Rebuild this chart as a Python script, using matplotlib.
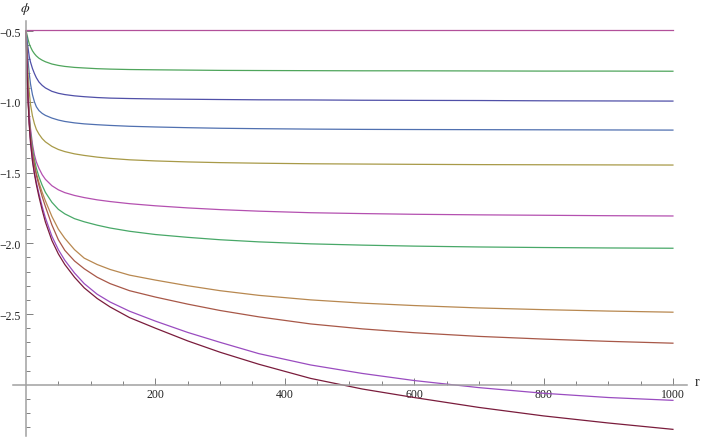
import matplotlib
matplotlib.use('Agg')
import matplotlib.pyplot as plt
import numpy as np

# sample radii and phi values for each curve
r = [0, 1, 2, 3, 5, 7, 10, 13, 16, 20, 25, 30, 40, 50, 60, 75, 90, 110, 130, 160,
     200, 250, 300, 360, 440, 520, 600, 700, 800, 900, 1000]

phi_flat = [-0.49] * len(r)
phi_green = [-0.5, -0.515, -0.535, -0.555, -0.59, -0.612, -0.64, -0.66, -0.676, -0.692, -0.706,
             -0.717, -0.733, -0.743, -0.75, -0.757, -0.761, -0.766, -0.769, -0.772,
             -0.774, -0.776, -0.778, -0.779, -0.78, -0.781, -0.781, -0.782, -0.783, -0.783, -0.784]
phi_blue = [-0.5, -0.54, -0.58, -0.615, -0.68, -0.72, -0.765, -0.8, -0.83, -0.86, -0.884,
            -0.902, -0.926, -0.94, -0.949, -0.958, -0.964, -0.97, -0.974, -0.977,
            -0.98, -0.982, -0.984, -0.986, -0.987, -0.989, -0.99, -0.991, -0.993, -0.994, -0.995]
phi_blue2 = [-0.5, -0.57, -0.64, -0.7, -0.8, -0.875, -0.95, -1.0, -1.035, -1.062, -1.082,
             -1.096, -1.115, -1.129, -1.139, -1.149, -1.156, -1.162, -1.167, -1.173,
             -1.178, -1.183, -1.187, -1.19, -1.193, -1.195, -1.196, -1.197, -1.198, -1.199, -1.2]
phi_olive = [-0.5, -0.6, -0.7, -0.79, -0.93, -1.02, -1.1, -1.155, -1.195, -1.228, -1.26,
             -1.283, -1.315, -1.337, -1.352, -1.368, -1.379, -1.391, -1.4, -1.41,
             -1.418, -1.425, -1.43, -1.434, -1.438, -1.44, -1.442, -1.444, -1.445, -1.446, -1.447]
phi_magenta = [-0.5, -0.64, -0.78, -0.9, -1.08, -1.19, -1.3, -1.375, -1.425, -1.47, -1.515,
               -1.548, -1.593, -1.622, -1.642, -1.662, -1.677, -1.693, -1.705, -1.72,
               -1.735, -1.75, -1.762, -1.773, -1.784, -1.79, -1.795, -1.799, -1.802, -1.805, -1.807]
phi_green2 = [-0.5, -0.65, -0.8, -0.93, -1.11, -1.22, -1.33, -1.41, -1.47, -1.53, -1.59,
              -1.64, -1.71, -1.76, -1.792, -1.826, -1.848, -1.872, -1.892, -1.915,
              -1.938, -1.958, -1.975, -1.99, -2.004, -2.013, -2.02, -2.026, -2.03, -2.033, -2.035]
phi_tan = [-0.5, -0.66, -0.82, -0.95, -1.13, -1.25, -1.36, -1.44, -1.505, -1.57, -1.64,
           -1.7, -1.81, -1.9, -1.965, -2.045, -2.105, -2.15, -2.185, -2.225,
           -2.26, -2.3, -2.335, -2.368, -2.4, -2.423, -2.44, -2.457, -2.469, -2.479, -2.487]
phi_brown = [-0.5, -0.66, -0.82, -0.95, -1.14, -1.26, -1.37, -1.45, -1.52, -1.59, -1.67,
             -1.74, -1.87, -1.975, -2.05, -2.125, -2.18, -2.24, -2.285, -2.335,
             -2.38, -2.43, -2.475, -2.52, -2.57, -2.605, -2.632, -2.658, -2.677, -2.693, -2.706]
phi_purple = [-0.5, -0.67, -0.83, -0.96, -1.15, -1.28, -1.41, -1.5, -1.57, -1.65, -1.74,
              -1.82, -1.95, -2.045, -2.12, -2.21, -2.285, -2.36, -2.415, -2.48,
              -2.55, -2.63, -2.7, -2.78, -2.86, -2.92, -2.97, -3.02, -3.06, -3.09, -3.11]
phi_darkred = [-0.5, -0.67, -0.84, -0.97, -1.16, -1.29, -1.42, -1.51, -1.585, -1.67, -1.765,
               -1.85, -1.98, -2.075, -2.15, -2.24, -2.315, -2.39, -2.45, -2.525,
               -2.6, -2.69, -2.77, -2.855, -2.955, -3.03, -3.09, -3.16, -3.22, -3.27, -3.315]

curves = [phi_flat, phi_green, phi_blue, phi_blue2, phi_olive, phi_magenta,
          phi_green2, phi_tan, phi_brown, phi_purple, phi_darkred]
colors = ['#b2509a', '#4fa55c', '#5050a8', '#5070b0', '#a89a48', '#b450b0',
          '#48a868', '#b88850', '#a85848', '#9a4cc0', '#7a1c3c']

ytick_vals = [-0.5, -1.0, -1.5, -2.0, -2.5]
ytick_labels = ['\u22120.5', '\u22121.0', '\u22121.5', '\u22122.0', '\u22122.5']
xtick_vals = [200, 400, 600, 800, 1000]
xtick_labels = ['200', '400', '600', '800', '1000']

plt.rcParams['font.family'] = ['Liberation Serif', 'DejaVu Serif']
plt.rcParams['mathtext.fontset'] = 'stix'

fig = plt.figure(figsize=(7.01, 4.39), dpi=100)
ax = fig.add_axes([13.06 / 701, 2 / 439, 674.1 / 701, 415 / 439])

for phi, c in zip(curves, colors):
    ax.plot(r, phi, color=c, lw=0.9)

ax.set_xlim(-20, 1022)
ax.set_ylim(-3.362, -0.429)

for s in ['top', 'right']:
    ax.spines[s].set_visible(False)
ax.spines['left'].set_position(('data', 0))
ax.spines['bottom'].set_position(('data', -3.0))
for s in ['left', 'bottom']:
    ax.spines[s].set_color('#a0a0a0')
    ax.spines[s].set_linewidth(1.1)

ax.set_xticks(xtick_vals)
ax.set_xticklabels(xtick_labels)
ax.set_xticks([50, 100, 150, 250, 300, 350, 450, 500, 550, 650, 700, 750, 850, 900, 950], minor=True)
ax.set_yticks(ytick_vals)
ax.set_yticklabels(ytick_labels)
ymin = [round(v, 1) for v in np.arange(-3.3, -0.45, 0.1)]
ymin = [v for v in ymin if v not in ytick_vals and v != -3.0]
ax.set_yticks(ymin, minor=True)

ax.tick_params(which='both', direction='in', color='#808080', width=0.7,
               labelsize=8.5, labelcolor='#222222')
ax.tick_params(which='major', length=5)
ax.tick_params(which='minor', length=3)
ax.tick_params(axis='x', pad=2)
ax.tick_params(axis='y', pad=4)

fig.text(25 / 701, 1 - 9 / 439, r'$\phi$', fontsize=10, ha='center', va='center', color='#222222')
fig.text(697 / 701, 1 - 383 / 439, 'r', fontsize=10, ha='center', va='center', color='#222222')

fig.savefig('out.png', dpi=100)
